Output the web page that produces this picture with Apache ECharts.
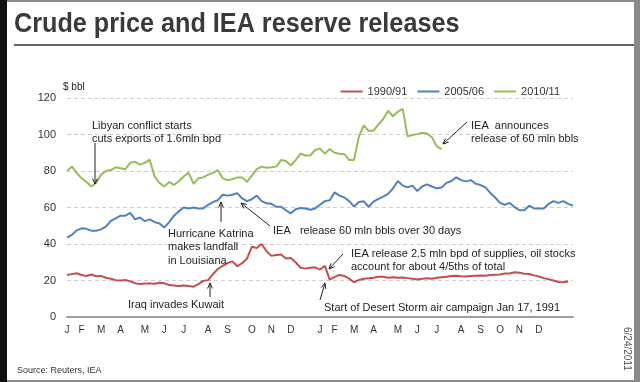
<!DOCTYPE html>
<html>
<head>
<meta charset="utf-8">
<script src="https://cdn.jsdelivr.net/npm/echarts@6/dist/echarts.min.js"></script>
<style>
html,body{margin:0;padding:0;background:#fff;}
#c{width:640px;height:382px;}
</style>
</head>
<body>
<div id="c"></div>
<script>
// weekly observations over two calendar years (week index 0..104)
const seriesNames = ['1990/91', '2005/06', '2010/11'];
const seriesColors = ['#c0504d', '#4f81bd', '#9bbb59'];

const red9091 = [23,23.5,24,23,22.5,23.3,22.3,22.5,21.5,21,
  20.2,20,20.3,19.5,18.5,18.1,18.3,18.4,18.2,18.8,
  18.5,17.5,17.3,17,17.2,17,16.6,18,19.8,20.2,
  23.5,26.3,28,29.5,30.5,27.8,29.5,32,38.5,37.8,
  40,36,33.5,34,34.2,32,32.3,30,27,26.5,
  27,27.2,26,28,20.5,22,23,22.5,21,19,
  20.3,21,21.2,21.5,22,22,21.5,21.8,21.5,21.6,
  21.3,21,20.6,21,21.2,21,21.5,21.8,22,22.5,
  22.6,22.3,22.2,22.4,22.6,22.8,22.6,23,23.2,23.3,
  23.8,23.8,24.5,24.2,23.7,23.6,22.8,22.2,21.3,20.7,
  20,19.2,19,19.5];

const blue0506 = [43.5,45,47.5,48.6,48.3,47.3,47.3,48,49.5,52.7,
  54,55.5,55.5,57,53.5,54.5,52.5,53.5,52,51.2,
  49,52,55.5,58,60,59.5,60,59.5,59.5,61.5,
  63,64,67,66.5,67,67.8,65,63.5,64.5,66.5,
  63.5,62.3,62,60.4,60.4,58.5,56.8,59,59.7,59.5,
  58.8,59.5,61.5,63.5,64,68.3,66.5,65.5,63.5,60.5,
  63,63.4,60.4,63.2,64.7,66,67.5,70.5,74.5,72,
  71,72,69,71.5,72.7,71.5,70.5,71,73.5,74.5,
  76.5,75,74.3,75,73,72.3,71,68,65.5,62.5,
  61.5,62.5,60.2,58.5,58.5,61,59.5,59.5,59.5,62,
  63.5,62.5,63.5,62,61];

const green1011 = [80,82.5,79,76,74,71.5,73.5,78,80,80.5,
  82,81.5,81,84.5,85,83.5,84.5,86.2,77,73.5,
  71.5,74,72.3,74.5,77,79,73,76,76.5,78,
  79,80.5,76,75,75.5,76.5,76.5,74,77.5,81,
  82.4,81.8,82,82.4,86,85.5,83,86,89.5,88.5,
  88.5,91.5,92.4,89.5,92,90,89.5,89.2,86,86,
  99,105,102,102,105.5,108.5,113,110,112.5,114,
  99,99.7,100.2,101,100.5,98.5,93.5,92];

// month tick labels and the week index where each is shown
const tickWeeks = [0,3,7,11,16,20,24,29,33,38,42,46,52,55,59,63,68,72,76,81,85,89,93,97];
const tickLabels = ['J','F','M','A','M','J','J','A','S','O','N','D','J','F','M','A','M','J','J','A','S','O','N','D'];

const yTicks = [0,20,40,60,80,100,120];

const weeks = [];
for (let i = 0; i <= 104; i++) weeks.push(String(i));
const labelAt = {};
tickWeeks.forEach((w, k) => { labelAt[w] = tickLabels[k]; });

const FONT = '"Liberation Sans", Arial, sans-serif';

function arrow(x1, y1, x2, y2) {
  const ang = Math.atan2(y2 - y1, x2 - x1);
  const L = 6, w = 0.42;
  const p1 = [x2 - L * Math.cos(ang - w), y2 - L * Math.sin(ang - w)];
  const p2 = [x2 - L * Math.cos(ang + w), y2 - L * Math.sin(ang + w)];
  return [
    {type: 'line', shape: {x1, y1, x2, y2}, style: {stroke: '#222', lineWidth: 1}, z: 20},
    {type: 'polyline', shape: {points: [p1, [x2, y2], p2]}, style: {stroke: '#222', fill: null, lineWidth: 1}, z: 20}
  ];
}
function note(x, y, txt) {
  return {type: 'text', x: x, y: y, z: 20,
    style: {text: txt, font: '11px ' + FONT, fill: '#222', lineHeight: 13.5, textVerticalAlign: 'top'}};
}

const graphics = [
  // frame
  {type: 'rect', shape: {x: 0, y: 0, width: 640, height: 382}, style: {fill: null, stroke: '#8a8a8a', lineWidth: 4}, z: 30},
  {type: 'rect', shape: {x: 0, y: 0, width: 7, height: 382}, style: {fill: '#111'}, z: 31},
  {type: 'rect', shape: {x: 634, y: 0, width: 6, height: 382}, style: {fill: '#8a8a8a'}, z: 31},
  // title and rule
  {type: 'text', x: 14, y: 24, scaleX: 0.9, style: {text: 'Crude price and IEA reserve releases', font: 'bold 28px "Liberation Sans Narrow", "Liberation Sans", Arial, sans-serif', fill: '#3a3a3a', textVerticalAlign: 'middle'}},
  {type: 'line', shape: {x1: 14, y1: 45, x2: 634, y2: 45}, style: {stroke: '#333', lineWidth: 1.5}},
  {type: 'text', x: 63, y: 87, style: {text: '$ bbl', font: '10px ' + FONT, fill: '#222', textVerticalAlign: 'middle'}},
  // footer
  {type: 'text', x: 17, y: 371, style: {text: 'Source: Reuters, IEA', font: '9px ' + FONT, fill: '#333', textVerticalAlign: 'middle'}},
  {type: 'text', x: 627, y: 327, rotation: -Math.PI / 2, style: {text: '6/24/2011', font: '10px ' + FONT, fill: '#555', textVerticalAlign: 'middle'}},
  // annotations
  note(92, 119, 'Libyan conflict starts\ncuts exports of 1.6mln bpd'),
  ...arrow(95, 143, 95, 184),
  note(471, 119, 'IEA  announces\nrelease of 60 mln bbls'),
  ...arrow(467, 122, 443, 144),
  note(168, 227, 'Hurricane Katrina\nmakes landfall\nin Louisiana'),
  ...arrow(221, 222, 221, 202),
  note(273, 224, 'IEA   release 60 mln bbls over 30 days'),
  ...arrow(270, 226, 241, 203),
  note(351, 247, 'IEA release 2.5 mln bpd of supplies, oil stocks\naccount for about 4/5ths of total'),
  ...arrow(343, 254, 329, 269),
  note(128, 298, 'Iraq invades Kuwait'),
  ...arrow(210, 297, 210, 283),
  note(324, 301, 'Start of Desert Storm air campaign Jan 17, 1991'),
  ...arrow(320, 300, 325, 283)
];

const chart = echarts.init(document.getElementById('c'), null, {renderer: 'canvas'});
chart.setOption({
  animation: false,
  backgroundColor: '#fff',
  grid: {left: 67, right: 67, top: 98, bottom: 65, containLabel: false},
  legend: {
    data: seriesNames, right: 75, top: 81, icon: 'rect', itemWidth: 22, itemHeight: 2, itemGap: 10,
    textStyle: {fontFamily: FONT, fontSize: 11, color: '#333'}
  },
  xAxis: {
    type: 'category', data: weeks, boundaryGap: false,
    axisLine: {lineStyle: {color: '#a0a0a0', width: 2}},
    axisTick: {show: false},
    splitLine: {show: false},
    axisLabel: {
      interval: (idx) => labelAt[idx] !== undefined,
      formatter: (v, idx) => labelAt[idx] || '',
      fontFamily: FONT, fontSize: 10, color: '#333', margin: 8
    }
  },
  yAxis: {
    type: 'value', min: yTicks[0], max: yTicks[yTicks.length - 1], interval: 20,
    axisLine: {show: false}, axisTick: {show: false},
    splitLine: {lineStyle: {color: '#cfcfcf', type: [4, 3], width: 1}},
    axisLabel: {fontFamily: FONT, fontSize: 11, color: '#333', margin: 11}
  },
  series: [
    {name: seriesNames[0], type: 'line', data: red9091, showSymbol: false, color: seriesColors[0], lineStyle: {width: 2}},
    {name: seriesNames[1], type: 'line', data: blue0506, showSymbol: false, color: seriesColors[1], lineStyle: {width: 2}},
    {name: seriesNames[2], type: 'line', data: green1011, showSymbol: false, color: seriesColors[2], lineStyle: {width: 2}}
  ],
  graphic: graphics
});
</script>
</body>
</html>
